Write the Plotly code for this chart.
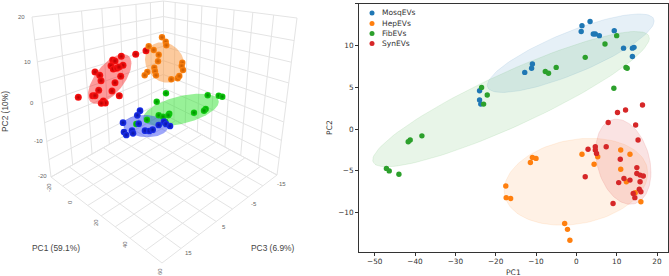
import numpy as np
import plotly.graph_objects as go

W, H = 669, 276

# ---- 2D PCA scores (PC1, PC2) ----
mosq_x = [-12.8, -11.1, -10.9, -24.0, -24.0, -23.7, 1.2, 1.4, 3.4, 4.2, 4.7, 5.7, 9.4, 11.7, 13.9, 13.9, 14.3]
mosq_y = [6.8, 7.3, 7.8, 4.6, 3.5, 3.0, 11.7, 12.4, 12.9, 11.4, 11.4, 11.2, 11.8, 9.7, 8.7, 9.7, 9.8]
hep_x = [-17.5, -17.4, -16.3, -11.4, -10.9, -10.0, -2.9, -2.2, -1.6, 1.4, 4.4, 5.3, 11.0, 13.3, 11.0, 12.4, 14.6, 16.0]
hep_y = [-6.8, -8.2, -8.3, -4.0, -3.4, -3.5, -11.3, -12.0, -13.3, -3.0, -4.2, -3.3, -2.5, -3.0, -4.8, -6.3, -7.6, -8.7]
fib_x = [-23.5, -22.1, -23.0, -7.7, -6.9, -5.0, 2.2, 7.1, 10.0, 12.3, 12.6, 9.3, -38.3, -41.2, -41.7, -47.1, -46.4, -44.0]
fib_y = [5.0, 4.1, 3.0, 6.9, 6.7, 7.4, 8.6, 10.2, 11.2, 7.4, 7.3, 4.9, -0.8, -1.3, -1.5, -4.7, -5.0, -5.4]
syn_x = [7.9, 10.2, 12.2, 16.4, 14.7, 15.3, 2.9, 4.7, 4.7, 5.0, 7.4, 10.9, 15.0, 15.0, 15.8, 16.6, 15.8, 13.3,
         11.8, 10.5, 2.2, 15.6, 16.0, 14.1, 14.5, 9.1]
syn_y = [0.8, 2.0, 2.3, 2.9, 0.5, -1.3, -2.4, -2.1, -2.5, -2.9, -2.1, -3.6, -4.6, -5.3, -5.5, -5.6, -6.3, -6.1,
         -5.9, -6.4, -5.7, -7.2, -7.5, -7.7, -8.2, -8.9]

# Confidence ellipses of the 2D plot: centre, half-extents and correlation
ell2d_mosq = (-1.4, 9.1, 20.7, 4.7, 0.82)
ell2d_hep = (-0.1, -6.3, 17.8, 5.2, 0.20)
ell2d_fib = (-16.2, 3.6, 34.3, 8.1, 0.90)
ell2d_syn = (11.65, -3.9, 6.85, 5.1, -0.25)

# ---- 3D view: scores as projected on the rendered canvas ----
red3d_x = [78.3, 95, 99.7, 101, 98.7, 92.7, 95, 103.3, 105.3, 101.3, 112, 119.3, 115, 120.7, 123, 121.3, 112.7, 115,
           111, 113.3, 116.7, 119, 135.7, 146]
red3d_y = [97.3, 72, 75.3, 80.7, 90.3, 95.7, 95.7, 101, 103, 103.3, 91, 95.7, 82.7, 76.3, 65.3, 56.3, 60, 61,
           65.7, 69, 68.3, 67, 54.3, 50.7]
org3d_x = [162, 165.7, 166.3, 148.7, 153.7, 158.7, 158, 182.3, 181.7, 183, 154.3, 155, 156, 147.3, 144.7, 171.3, 177.7, 179.3]
org3d_y = [37.3, 41.7, 45.3, 46.3, 50, 54.7, 61.3, 62.7, 66, 70, 67.7, 71.3, 75.3, 72, 75.3, 79.3, 78.3, 76]
grn3d_x = [166, 156.7, 207.7, 218.7, 222.3, 205.7, 204, 194, 169.3, 168.3, 158.7, 163, 147, 136.3, 165.3]
grn3d_y = [93.3, 101.7, 95.3, 95.7, 96.7, 109, 110.7, 112.7, 113.7, 115.3, 115.3, 116.7, 119.7, 124, 121.7]
blu3d_x = [140, 137.3, 123, 138.7, 124, 126.3, 132, 133, 145, 149.3, 152.7, 158.7, 164, 166, 170]
blu3d_y = [110.7, 115.3, 122.7, 123.7, 132, 135, 130.7, 133.3, 130.7, 131, 129.7, 125, 121.7, 124, 126]

ell3d_red = (109.7, 79, 21.7, 25, -0.62)
ell3d_org = (164.7, 62.5, 19.7, 20.2, 0.15)
ell3d_grn = (181, 110, 37.8, 16.3, -0.5)
ell3d_blu = (145.7, 126, 22.3, 11.2, 0.08)

# Ticks of the 3D box
pc1_grid = [-20, -10, 0, 10, 20, 30, 40, 50, 60]
pc2_grid = [-20, -15, -10, -5, 0, 5, 10, 15, 20]
pc3_grid = [-15, -10, -5, 0, 5, 10, 15, 20]

pc2_ticks = ["20", "10", "0", "-10", "-20"]
pc1_ticks = ["-20", "0", "20", "40", "60"]
pc3_ticks = ["-15", "-5", "5", "15"]

series_names = ["MosqEVs", "HepEVs", "FibEVs", "SynEVs"]
tab_colors = ["#1f77b4", "#ff7f0e", "#2ca02c", "#d62728"]
tab_fills = ["rgba(31,119,180,0.11)", "rgba(255,127,14,0.11)", "rgba(44,160,44,0.11)", "rgba(214,39,40,0.13)"]


def ellipse(cx, cy, sx, sy, rho, n=120):
    t = np.linspace(0, 2 * np.pi, n)
    return cx + sx * np.cos(t), cy + sy * np.cos(t - np.arccos(rho))


def homography(src, dst):
    A, b = [], []
    for (u, v), (x, y) in zip(src, dst):
        A.append([u, v, 1, 0, 0, 0, -u * x, -v * x])
        A.append([0, 0, 0, u, v, 1, -u * y, -v * y])
        b += [x, y]
    return np.append(np.linalg.solve(np.array(A, float), np.array(b, float)), 1).reshape(3, 3)


def wall_lines(us, vs, dst):
    """Grid of one box face, perspective-mapped from tick values to the canvas."""
    src = [(us[0], vs[0]), (us[-1], vs[0]), (us[-1], vs[-1]), (us[0], vs[-1])]
    M = homography(src, dst)
    xs, ys = [], []
    segs = [((u, vs[0]), (u, vs[-1])) for u in us] + [((us[0], v), (us[-1], v)) for v in vs]
    for p, q in segs:
        for u, v in (p, q):
            w = M @ np.array([u, v, 1.0])
            xs.append(w[0] / w[2])
            ys.append(w[1] / w[2])
        xs.append(None)
        ys.append(None)
    return xs, ys


fig = go.Figure()

# Box corners of the 3D view on its canvas
back_top, back_bot = (163.5, 1), (163.5, 114)
left_top, left_bot = (32, 17), (51, 177)
right_top, right_bot = (297, 18), (277, 175)
front_bot = (162, 263)

faces = [
    wall_lines(pc3_grid, pc2_grid, [back_bot, left_bot, left_top, back_top]),
    wall_lines(pc1_grid, pc2_grid, [back_bot, right_bot, right_top, back_top]),
    wall_lines(pc1_grid, pc3_grid, [back_bot, right_bot, front_bot, left_bot]),
]
for gx, gy in faces:
    fig.add_trace(go.Scatter(x=gx, y=gy, mode="lines", line=dict(color="#e4e4e4", width=1),
                             hoverinfo="skip", showlegend=False, xaxis="x", yaxis="y"))

groups3d = [
    (ell3d_red, red3d_x, red3d_y, "rgba(250,30,30,0.45)", "#ff1414", "#b80000", 7),
    (ell3d_org, org3d_x, org3d_y, "rgba(250,150,60,0.5)", "#ff8410", "#c85a00", 6.4),
    (ell3d_grn, grn3d_x, grn3d_y, "rgba(40,225,40,0.48)", "#10d010", "#008a00", 6.4),
    (ell3d_blu, blu3d_x, blu3d_y, "rgba(50,70,245,0.48)", "#1a30f0", "#0a14a0", 6.7),
]
for ell, px, py, fill, col, edge, size in groups3d:
    ex, ey = ellipse(*ell)
    fig.add_trace(go.Scatter(x=ex, y=ey, mode="lines", fill="toself", fillcolor=fill,
                             line=dict(width=0), hoverinfo="skip", showlegend=False, xaxis="x", yaxis="y"))
for ell, px, py, fill, col, edge, size in groups3d:
    fig.add_trace(go.Scatter(x=px, y=py, mode="markers", showlegend=False, xaxis="x", yaxis="y",
                             marker=dict(size=size, color=col, line=dict(width=0),
                                         gradient=dict(type="radial", color=edge))))

# ---- 2D panel ----
ell2d = [ell2d_mosq, ell2d_hep, ell2d_fib, ell2d_syn]
for ell, fill, col in zip(ell2d, tab_fills, tab_colors):
    ex, ey = ellipse(*ell)
    fig.add_trace(go.Scatter(x=ex, y=ey, mode="lines", fill="toself", fillcolor=fill,
                             line=dict(width=0.6, color=fill.replace("0.11", "0.16").replace("0.13", "0.2")),
                             hoverinfo="skip", showlegend=False, xaxis="x2", yaxis="y2"))
pts = [(mosq_x, mosq_y), (hep_x, hep_y), (fib_x, fib_y), (syn_x, syn_y)]
for (px, py), name, col in zip(pts, series_names, tab_colors):
    fig.add_trace(go.Scatter(x=px, y=py, mode="markers", name=name, showlegend=False,
                             marker=dict(size=5.4, color=col, line=dict(width=0)), xaxis="x2", yaxis="y2"))

left_ann = []


def canvas_text(text, x, y, size, color, angle=0, family="Liberation Sans"):
    left_ann.append(dict(text=text, x=x / W, y=1 - y / H, xref="paper", yref="paper", showarrow=False,
                         xanchor="center", yanchor="middle", textangle=angle,
                         font=dict(family=family, size=size, color=color)))


for txt, (x, y) in zip(pc2_ticks, [(21, 17), (27, 62), (32, 103), (38, 141), (42, 176)]):
    canvas_text(txt, x, y, 6, "#666666")
for txt, (x, y) in zip(pc1_ticks, [(49, 187), (70, 202), (96, 223), (125, 245), (160, 272)]):
    canvas_text(txt, x, y, 6, "#666666", angle=-90)
for txt, (x, y) in zip(pc3_ticks, [(281, 184), (254, 204), (224, 227), (188, 253)]):
    canvas_text(txt, x, y, 6, "#666666")
canvas_text("PC1 (59.1%)", 56, 248, 8.4, "#444444")
canvas_text("PC3 (6.9%)", 272, 248, 8.4, "#444444")
canvas_text("PC2 (10%)", 5, 112, 8.4, "#444444", angle=-90)

canvas_text("PC1", 513, 272, 7.6, "#333333", family="DejaVu Sans")
canvas_text("PC2", 329, 128, 7.6, "#333333", angle=-90, family="DejaVu Sans")

# Compact legend: key dots and labels
legend_rows = [13, 23.5, 33.5, 43.5]
shapes = []
for name, col, row in zip(series_names, tab_colors, legend_rows):
    canvas_text(name, 0, 0, 7.5, "#333333", family="DejaVu Sans")
    left_ann[-1].update(x=379.5 / W, y=1 - row / H, xanchor="left")
    shapes.append(dict(type="circle", xref="paper", yref="paper", layer="above",
                       x0=369.5 / W, x1=374.5 / W, y0=1 - (row + 2.5) / H, y1=1 - (row - 2.5) / H,
                       fillcolor=col, line=dict(width=0)))

fig.update_layout(
    width=W, height=H, autosize=False, margin=dict(l=0, r=0, t=0, b=0),
    paper_bgcolor="white", plot_bgcolor="white", showlegend=False,
    annotations=left_ann, shapes=shapes,
    xaxis=dict(domain=[0, 335 / W], range=[0, 335], visible=False, fixedrange=True),
    yaxis=dict(domain=[0, 1], range=[276, 0], visible=False, fixedrange=True),
    xaxis2=dict(domain=[359 / W, 668.3 / W], range=[-53.9, 22.8], anchor="y2", tickmode="array",
                tickvals=[-50, -40, -30, -20, -10, 0, 10, 20], showgrid=False, zeroline=False,
                showline=True, mirror=True, linecolor="#333333", linewidth=1, ticks="outside", ticklen=3,
                tickwidth=0.8, tickcolor="#333333", tickfont=dict(family="DejaVu Sans", size=7.3, color="#333333")),
    yaxis2=dict(domain=[(H - 251.5) / H, (H - 3.5) / H], range=[-14.65, 15.05], anchor="x2", tickmode="array",
                tickvals=[-10, -5, 0, 5, 10, 15], showgrid=False, zeroline=False,
                showline=True, mirror=True, linecolor="#333333", linewidth=1, ticks="outside", ticklen=3,
                tickwidth=0.8, tickcolor="#333333", tickfont=dict(family="DejaVu Sans", size=7.3, color="#333333")),
)

fig.write_html("out.html")
